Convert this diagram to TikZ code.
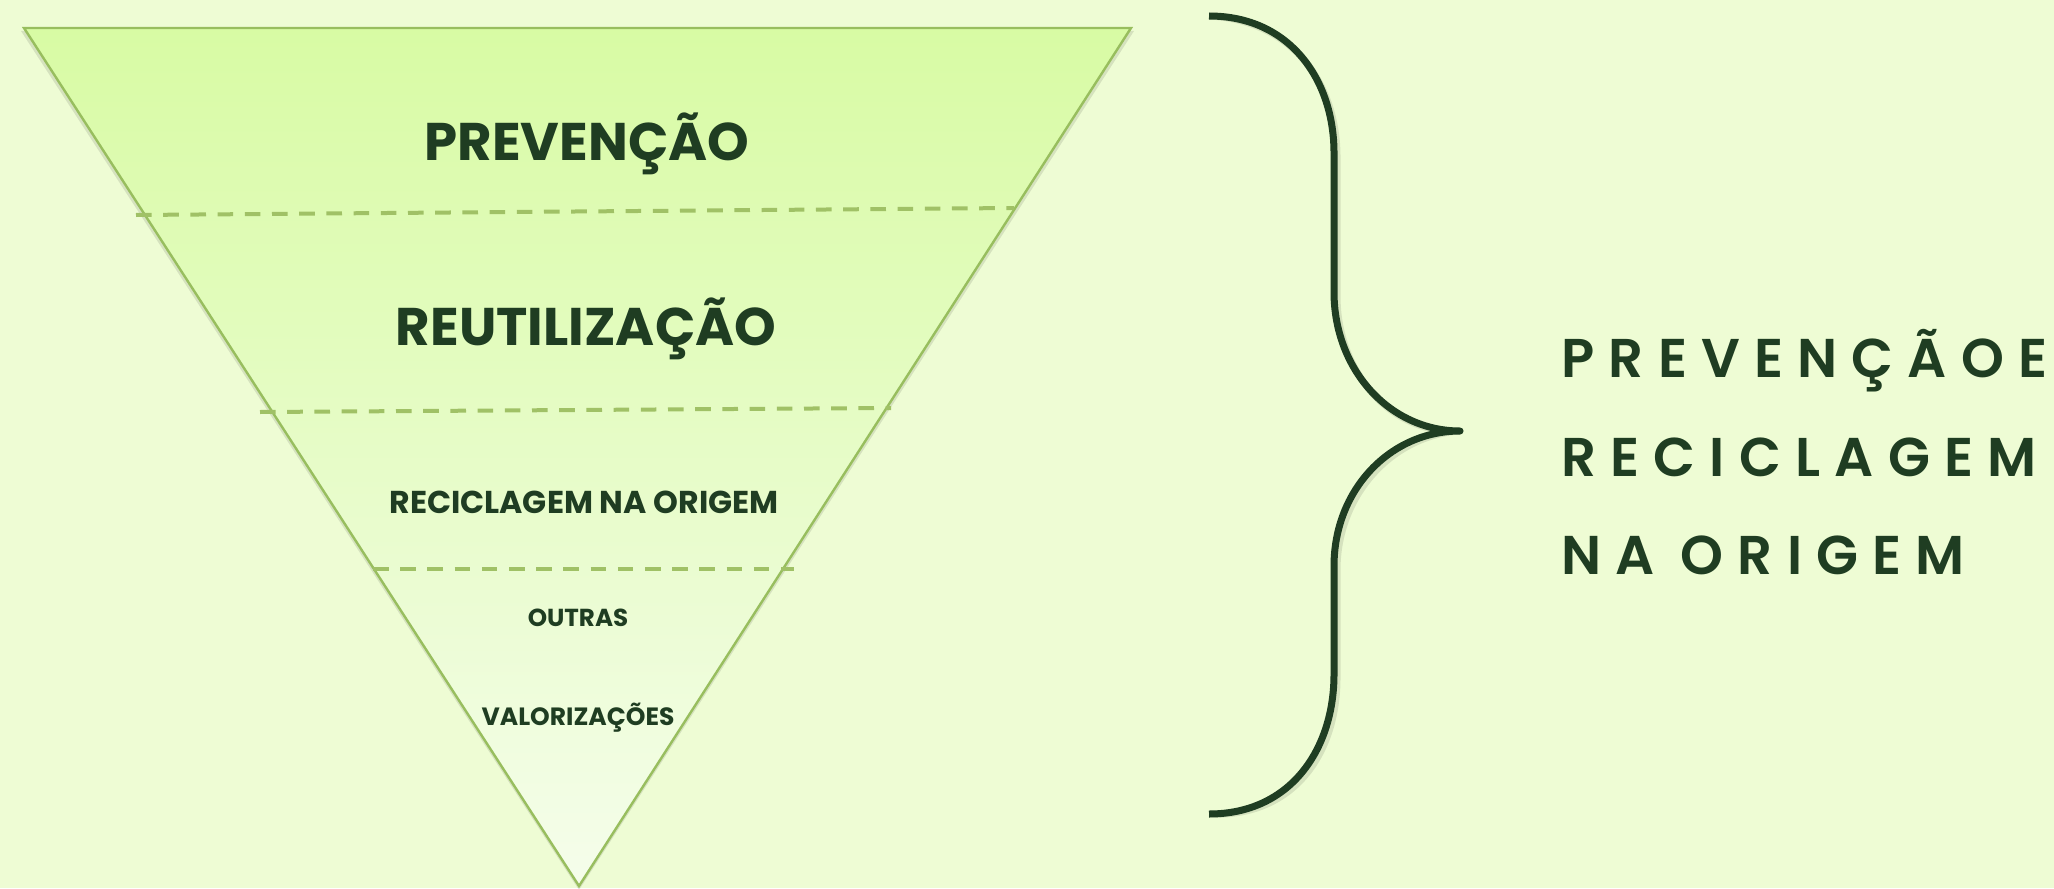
\documentclass[tikz,border=0pt]{standalone}
\usepackage{fontspec}
\setmainfont{Poppins}
\IfFontExistsTF{Poppins SemiBold}{\newfontfamily\sidefont{Poppins SemiBold}[LetterSpace=26]}{\newfontfamily\sidefont{Poppins}[LetterSpace=25]\let\oldsidefont\sidefont\renewcommand\sidefont{\oldsidefont\bfseries}}
\usetikzlibrary{shadows,calc}
\definecolor{bg}{RGB}{238,252,212}
\definecolor{tritop}{RGB}{216,251,164}
\definecolor{tribot}{RGB}{245,253,235}
\definecolor{edgec}{RGB}{152,190,94}
\definecolor{dashc}{RGB}{160,193,102}
\definecolor{ink}{RGB}{31,61,34}
\begin{document}
\begin{tikzpicture}[x=0.5pt,y=-0.5pt,
  lbl/.style={text=ink, font=\bfseries, inner sep=0pt, anchor=base},
  sepline/.style={draw=dashc, line width=2pt, dash pattern=on 7.8pt off 5.8pt},
  bracestyle/.style={draw=ink, line width=3.5pt, line join=round, line cap=butt},
  sidetext/.style={text=ink, inner sep=0pt, anchor=base west,
    font=\sidefont\fontsize{27.3}{30}\selectfont}
]
\fill[bg] (0,0) rectangle (2054,888);
\useasboundingbox (0,0) rectangle (2054,888);
% funnel
\coordinate (TL) at (24,28);
\coordinate (TR) at (1131,28);
\coordinate (B) at (579,886);
\fill[black, opacity=0.10] ($(TL)+(-3,3)$) -- ($(TR)+(3,3)$) -- ($(B)+(0,4)$) -- cycle;
\shade[top color=tritop, bottom color=tribot, draw=edgec, line width=1.2pt] (TL) -- (TR) -- (B) -- cycle;
% separators
\coordinate (s1a) at (136,215); \coordinate (s1b) at (1014,208);
\coordinate (s2a) at (260,412); \coordinate (s2b) at (891,408);
\coordinate (s3a) at (373,569); \coordinate (s3b) at (794,569);
\draw[sepline] (s1a) -- (s1b);
\draw[sepline] (s2a) -- (s2b);
\draw[sepline] (s3a) -- (s3b);
% labels
\node[lbl, font=\bfseries\fontsize{26.5}{30}\selectfont] (prev) at (587,160) {PREVENÇÃO};
\node[lbl, font=\bfseries\fontsize{26.5}{30}\selectfont] (reut) at (586,345) {REUTILIZAÇÃO};
\node[lbl, font=\bfseries\fontsize{15.8}{18}\selectfont] (reci) at (584,513) {RECICLAGEM NA ORIGEM};
\node[lbl, font=\bfseries\fontsize{12.3}{14}\selectfont] (outr) at (578,626) {OUTRAS};
\node[lbl, font=\bfseries\fontsize{12.5}{14}\selectfont] (valo) at (578,725) {VALORIZAÇÕES};
% brace
\coordinate (bt) at (1209,16);
\coordinate (tip) at (1460,431);
\coordinate (bb) at (1209,814);
\draw[bracestyle, draw=black, opacity=0.10, shift={(3,4)}] (bt) .. controls (1290,16) and (1334,80) .. (1334,153) -- (1334,292)
  .. controls (1334,370) and (1390,431) .. (tip)
  .. controls (1390,431) and (1334,490) .. (1334,566) -- (1334,674)
  .. controls (1334,750) and (1290,814) .. (bb);
\draw[bracestyle] (bt) .. controls (1290,16) and (1334,80) .. (1334,153) -- (1334,292)
  .. controls (1334,370) and (1390,431) .. (tip)
  .. controls (1390,431) and (1334,490) .. (1334,566) -- (1334,674)
  .. controls (1334,750) and (1290,814) .. (bb);
% side text
\node[sidetext] (l1) at (1561,377) {PREVENÇÃOE};
\node[sidetext] (l2) at (1561,476) {RECICLAGEM};
\node[sidetext] (l3) at (1561,574) {NA\hspace{13pt}ORIGEM};
\end{tikzpicture}
\end{document}
